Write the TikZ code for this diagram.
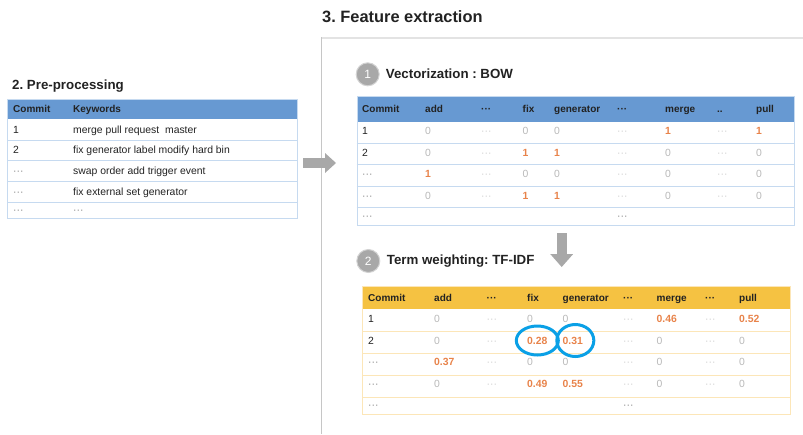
\documentclass[tikz,border=0pt]{standalone}
\usepackage{fontspec}
\setmainfont{Liberation Sans}
\usepackage{xcolor}
\usetikzlibrary{arrows.meta}
\definecolor{headblue}{HTML}{6799D2}
\definecolor{lineblue}{HTML}{C6DAF0}
\definecolor{headgold}{HTML}{F5C242}
\definecolor{linegold}{HTML}{FCE6B8}
\definecolor{hotorange}{HTML}{E8834A}
\definecolor{ringblue}{HTML}{0AA0E6}
\definecolor{textdark}{HTML}{222222}
\frenchspacing

\begin{document}
\begin{tikzpicture}[x=1pt,y=-1pt,every node/.style={inner sep=0pt,text=textdark},
  title/.style={anchor=west,font=\fontsize{13.3}{15}\selectfont\bfseries},
  hd/.style={anchor=west,text height=7.2pt,text depth=0pt,font=\fontsize{10}{12}\selectfont\bfseries},
  plain/.style={anchor=west,text height=7.4pt,text depth=0pt,font=\fontsize{10.4}{12}\selectfont},
  zero/.style={plain,text=gray!56},
  hot/.style={plain,font=\fontsize{10.4}{12}\selectfont\bfseries,text=hotorange},
  dots/.style={plain,text=gray!40},
  cdots/.style={plain,text=gray},
  blank/.style={plain},
  badge/.style={circle,fill=gray!68,draw=gray!35,line width=1pt,minimum size=23pt,text=white,font=\fontsize{12}{14}\selectfont},
  blockarrow/.style={draw=gray!68,line width=10pt,-{Triangle[length=11pt,width=20pt,line width=0pt]}},
  ring/.style={draw=ringblue,line width=3pt}]
\useasboundingbox (0,0) rectangle (803,434);

% section titles
\node[title,font=\fontsize{16.4}{18}\selectfont\bfseries] (fe) at (322,17) {3. Feature extraction};
\node[title] (pp) at (12,86) {2. Pre-processing};

% feature extraction frame
\draw[gray!22,line width=2pt] (321.7,38.3) -- (803,38.3);
\draw[gray!45,line width=1.2pt] (321.7,37.3) -- (321.7,434);

% pre-processing table
\fill[headblue] (7,99) rectangle (297,119);
\draw[lineblue] (7,99) rectangle (297,218);
\foreach \y in {140,160,181,202} \draw[lineblue] (7,\y) -- (297,\y);
\node[hd] (pp-0-1) at (13,109) {Commit};
\node[hd] (pp-0-2) at (73,109) {Keywords};
\foreach \y/\s/\a/\t/\b [count=\r] in {129.5/plain/1/plain/merge pull request~ master,
    150/plain/2/plain/fix generator label modify hard bin,
    170.5/cdots/···/plain/swap order add trigger event,
    191.5/cdots/···/plain/fix external set generator,
    210/cdots/···/cdots/···} {
  \node[\s] (pp-\r-1) at (13,\y) {\a};
  \node[\t] (pp-\r-2) at (73,\y) {\b};
}

% arrow into feature extraction
\coordinate (pp-out) at (303,163);
\coordinate (fe-in) at (336,163);
\draw[blockarrow] (pp-out) -- (fe-in);

% 1 vectorization
\node[badge] (b1) at (367.7,74.3) {1};
\node[title] (bow-t) at (385.7,74) {Vectorization : BOW};
\fill[headblue] (356.7,96.3) rectangle (794,121.7);
\draw[lineblue] (356.7,96.3) rectangle (794,225);
\foreach \y in {143,164.5,186,207} \draw[lineblue] (356.7,\y) -- (794,\y);
\def\bowx{{362,425,481,522.5,554,617,665,717,756}}
\foreach \v [count=\c] in {Commit,add,···,fix,generator,···,merge,{..},pull} {
  \pgfmathsetmacro\xx{\bowx[\c-1]}
  \node[hd] (bow-0-\c) at (\xx,109) {\v};
}
\foreach \s/\v [count=\c] in {plain/1,zero/0,dots/···,zero/0,zero/0,dots/···,hot/1,dots/···,hot/1} {
  \pgfmathsetmacro\xx{\bowx[\c-1]}
  \node[\s] (bow-1-\c) at (\xx,131) {\v};
}
\foreach \s/\v [count=\c] in {plain/2,zero/0,dots/···,hot/1,hot/1,dots/···,zero/0,dots/···,zero/0} {
  \pgfmathsetmacro\xx{\bowx[\c-1]}
  \node[\s] (bow-2-\c) at (\xx,152.5) {\v};
}
\foreach \s/\v [count=\c] in {cdots/···,hot/1,dots/···,zero/0,zero/0,dots/···,zero/0,dots/···,zero/0} {
  \pgfmathsetmacro\xx{\bowx[\c-1]}
  \node[\s] (bow-3-\c) at (\xx,174) {\v};
}
\foreach \s/\v [count=\c] in {cdots/···,zero/0,dots/···,hot/1,hot/1,dots/···,zero/0,dots/···,zero/0} {
  \pgfmathsetmacro\xx{\bowx[\c-1]}
  \node[\s] (bow-4-\c) at (\xx,195.5) {\v};
}
\foreach \s/\v [count=\c] in {cdots/···,blank/,blank/,blank/,blank/,cdots/···,blank/,blank/,blank/} {
  \pgfmathsetmacro\xx{\bowx[\c-1]}
  \node[\s] (bow-5-\c) at (\xx,216) {\v};
}

% arrow down to weighting
\coordinate (bow-out) at (561.7,233);
\coordinate (tf-in) at (561.7,267);
\draw[blockarrow,-{Triangle[length=13pt,width=23pt,line width=0pt]}] (bow-out) -- (tf-in);

% 2 term weighting
\node[badge] (b2) at (368.3,261) {2};
\node[title] (tf-t) at (386.7,261) {Term weighting: TF-IDF};
\fill[headgold] (362.7,286.7) rectangle (790.5,309.3);
\draw[linegold,line width=1.3pt] (362.7,286.7) rectangle (790.5,414.7);
\foreach \y in {331,353,375,397} \draw[linegold,line width=1pt] (362.7,\y) -- (790.5,\y);
\def\tfx{{368,434,486.5,527,562.5,623,656.5,705,739}}
\foreach \v [count=\c] in {Commit,add,···,fix,generator,···,merge,···,pull} {
  \pgfmathsetmacro\xx{\tfx[\c-1]}
  \node[hd] (tf-0-\c) at (\xx,298) {\v};
}
\foreach \s/\v [count=\c] in {plain/1,zero/0,dots/···,zero/0,zero/0,dots/···,hot/0.46,dots/···,hot/0.52} {
  \pgfmathsetmacro\xx{\tfx[\c-1]}
  \node[\s] (tf-1-\c) at (\xx,319) {\v};
}
\foreach \s/\v [count=\c] in {plain/2,zero/0,dots/···,hot/0.28,hot/0.31,dots/···,zero/0,dots/···,zero/0} {
  \pgfmathsetmacro\xx{\tfx[\c-1]}
  \node[\s] (tf-2-\c) at (\xx,340.5) {\v};
}
\foreach \s/\v [count=\c] in {cdots/···,hot/0.37,dots/···,zero/0,zero/0,dots/···,zero/0,dots/···,zero/0} {
  \pgfmathsetmacro\xx{\tfx[\c-1]}
  \node[\s] (tf-3-\c) at (\xx,362) {\v};
}
\foreach \s/\v [count=\c] in {cdots/···,zero/0,dots/···,hot/0.49,hot/0.55,dots/···,zero/0,dots/···,zero/0} {
  \pgfmathsetmacro\xx{\tfx[\c-1]}
  \node[\s] (tf-4-\c) at (\xx,384) {\v};
}
\foreach \s/\v [count=\c] in {cdots/···,blank/,blank/,blank/,blank/,cdots/···,blank/,blank/,blank/} {
  \pgfmathsetmacro\xx{\tfx[\c-1]}
  \node[\s] (tf-5-\c) at (\xx,405) {\v};
}

% highlighted weights
\draw[ring] (tf-2-4.center) ellipse [x radius=21pt,y radius=14.5pt];
\draw[ring] ([xshift=2.5pt]tf-2-5.center) ellipse [x radius=18.5pt,y radius=16pt];
\end{tikzpicture}
\end{document}
